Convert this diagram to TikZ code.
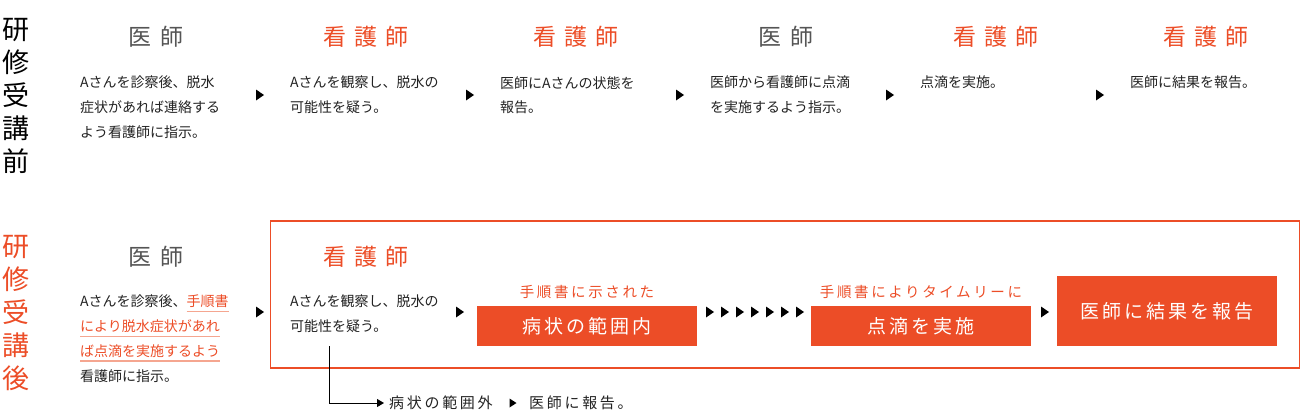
\documentclass[tikz,border=0pt]{standalone}
\usepackage{fontspec}
\usepackage{xcolor}
\setmainfont{Noto Sans CJK JP}
\newfontfamily\headfont[LetterSpace=36]{Noto Sans CJK JP}
\newfontfamily\boxfont[LetterSpace=16]{Noto Sans CJK JP}
\newfontfamily\notefont[LetterSpace=18]{Noto Sans CJK JP}
\usetikzlibrary{arrows.meta,positioning}
\definecolor{kgorange}{HTML}{EC4D27}
\definecolor{kggray}{HTML}{555555}
\definecolor{kgline}{HTML}{F5A690}
\definecolor{kgtext}{HTML}{222222}
\newsavebox\tejunbox
\newcommand\tejun[1]{\sbox\tejunbox{\color{kgorange}#1}\rlap{\color{kgline}\rule[-5.4pt]{\wd\tejunbox}{1.3pt}}\usebox\tejunbox}
\tikzset{
  side/.style={align=center, inner sep=0pt, font=\fontsize{27}{33}\selectfont},
  doctor/.style={inner sep=0pt, xshift=1pt, text=kggray, font=\headfont\fontsize{23}{23}\selectfont},
  nurse/.style={doctor, text=kgorange},
  desc/.style={anchor=north west, align=left, inner sep=0pt, text=kgtext, font=\fontsize{14}{24.7}\selectfont},
  stepfill/.style={fill=kgorange, text=white, minimum width=220pt, minimum height=40pt, inner sep=0pt, font=\boxfont\fontsize{19}{19}\selectfont},
  note/.style={inner sep=0pt, text=kgorange, font=\notefont\fontsize{14.5}{14.5}\selectfont},
  outtext/.style={anchor=west, inner sep=0pt, text=kgtext, font=\notefont\fontsize{15}{15}\selectfont},
  kgframe/.style={draw=kgorange, line width=1.2pt},
  elbow/.style={-{Triangle[length=7pt, width=8pt]}, line width=0.9pt, draw=black},
  tri/.pic={\fill[black] (-4,-5.5) -- (4,0) -- (-4,5.5) -- cycle;},
  smalltri/.pic={\fill[black] (-3.5,-4.5) -- (3.5,0) -- (-3.5,4.5) -- cycle;}
}

\begin{document}
\begin{tikzpicture}[x=1pt, y=-1pt]
  \useasboundingbox (0,0) rectangle (1301,410);

  \node[side] (before) at (15.5,95.5) {研\\修\\受\\講\\前};
  \node[side, text=kgorange] (after) at (15.5,313) {研\\修\\受\\講\\後};

  \node[doctor] (b1) at (155,37) {医師};
  \node[nurse] (b2) at (365,37) {看護師};
  \node[nurse] (b3) at (575,37) {看護師};
  \node[doctor] (b4) at (785,37) {医師};
  \node[nurse] (b5) at (995,37) {看護師};
  \node[nurse] (b6) at (1205,37) {看護師};

  \node[desc] (b1t) at (80,76) {Aさんを診察後、脱水\\症状があれば連絡する\\よう看護師に指示。};
  \node[desc] (b2t) at (290,76) {Aさんを観察し、脱水の\\可能性を疑う。};
  \node[desc] (b3t) at (500,76) {医師にAさんの状態を\\報告。};
  \node[desc] (b4t) at (710,76) {医師から看護師に点滴\\を実施するよう指示。};
  \node[desc] (b5t) at (920,76) {点滴を実施。};
  \node[desc] (b6t) at (1130,76) {医師に結果を報告。};

  \foreach \x in {260,470,680,890,1100}
    \pic at (\x,95) {tri};

  \draw[kgframe] (270.5,221) rectangle (1299.8,368);

  \node[doctor] (a1) at (155,257) {医師};
  \node[nurse] (a2) at (365,257) {看護師};

  \node[desc] (a1t) at (80,295) {Aさんを診察後、\tejun{手順書}\\\tejun{により脱水症状があれ}\\\tejun{ば点滴を実施するよう}\\看護師に指示。};
  \node[desc] (a2t) at (290,295) {Aさんを観察し、脱水の\\可能性を疑う。};

  \node[stepfill] (inside) at (587,326) {病状の範囲内};
  \node[note, above=7pt of inside] (insidenote) {手順書に示された};
  \node[stepfill] (drip) at (921,326) {点滴を実施};
  \node[note, above=7pt of drip] (dripnote) {手順書によりタイムリーに};
  \node[stepfill, minimum height=70pt] (report) at (1167,311) {医師に結果を報告};

  \foreach \x in {260,460,1045}
    \pic at (\x,312) {tri};
  \foreach \i in {0,...,6}
    \pic at (710+15*\i,312) {tri};

  \coordinate (split) at (329,346);
  \node[outtext] (outside) at (389,403) {病状の範囲外};
  \node[outtext] (tell) at (529,403) {医師に報告。};
  \pic at (513,403) {smalltri};
  \draw[elbow, shorten >=5pt] (split) |- (outside.west);
\end{tikzpicture}
\end{document}
